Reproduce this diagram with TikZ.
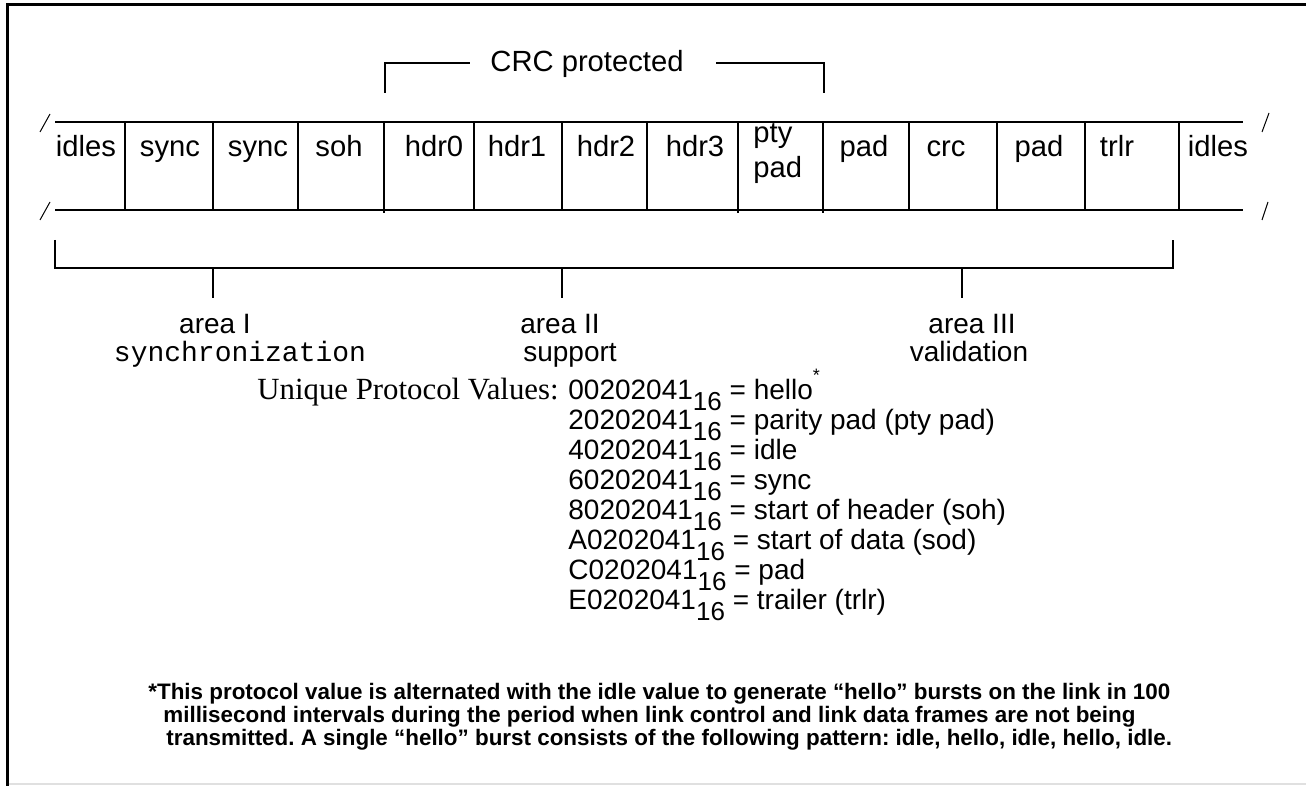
\documentclass[tikz,border=0pt]{standalone}
\usepackage{fontspec}
\setmainfont{Liberation Sans}
\newfontfamily\timesf{Liberation Serif}
\newfontfamily\courf{Liberation Mono}
\newcommand\sixteen{\raisebox{-0.42em}{\fontsize{13}{15}\selectfont 16}}
\frenchspacing
\begin{document}
\begin{tikzpicture}[x=0.5pt,y=-0.5pt,
  lbl/.style={font=\fontsize{14.6}{16}\selectfont, anchor=base, inner sep=0pt},
  area/.style={font=\fontsize{14}{16}\selectfont, anchor=base, inner sep=0pt},
  mono/.style={font=\courf\fontsize{14}{16}\selectfont, anchor=base, inner sep=0pt},
  val/.style={font=\fontsize{14}{16}\selectfont, anchor=base west, inner sep=0pt},
  foot/.style={font=\bfseries\fontsize{11.2}{13}\selectfont, anchor=base west, inner sep=0pt},
  rowline/.style={line width=1pt},
  brk/.style={line width=0.8pt},
  slash/.style={line width=0.5pt},
  frame/.style={line width=1.5pt}]
\useasboundingbox (0,0) rectangle (1306,786);
% frame
\draw[frame] (7,786) -- (7,5) -- (1306,5);
\draw[line width=1pt, black!12] (9,784) -- (1306,784);
% CRC protected bracket
\node[lbl] (crc) at (587,72) {CRC protected};
\coordinate (cl) at (385,93);
\coordinate (cr) at (824,93);
\draw[brk] (cl) |- ([xshift=-10pt]crc.west |- 0,63);
\draw[brk] (cr) |- ([xshift=16pt]crc.east |- 0,63);
% row
\draw[rowline] (55,122) -- (1243,122);
\draw[rowline] (55,210) -- (1243,210);
\draw[slash] (40,132) -- (50,114);
\draw[slash] (40,220) -- (50,202);
\draw[slash] (1262,132) -- (1269,113);
\draw[slash] (1262,220) -- (1268,202);
\foreach \x in {125,213,298,474,562,647,909,997,1085,1179}
  \draw[rowline] (\x,122) -- (\x,210);
\draw[rowline] (384,122) -- (384,213);
\draw[rowline] (738,122) -- (738,213);
\draw[rowline] (823,122) -- (823,213);
\node[lbl] (c1) at (86,157) {idles};
\node[lbl] (c2) at (170,157) {sync};
\node[lbl] (c3) at (258,157) {sync};
\node[lbl] (c4) at (339,157) {soh};
\node[lbl] (c5) at (434,157) {hdr0};
\node[lbl] (c6) at (517,157) {hdr1};
\node[lbl] (c7) at (606,157) {hdr2};
\node[lbl] (c8) at (695,157) {hdr3};
\node[lbl, anchor=base west] (c9a) at (753,143) {pty};
\node[lbl, anchor=base west] (c9b) at (753,178) {pad};
\node[lbl] (c10) at (864,157) {pad};
\node[lbl] (c11) at (946,157) {crc};
\node[lbl] (c12) at (1039,157) {pad};
\node[lbl] (c13) at (1117,157) {trlr};
\node[lbl] (c14) at (1218,157) {idles};
% area bracket
\coordinate (bl) at (55,240);
\coordinate (br) at (1173,240);
\draw[brk] (bl) -- (55,268) -- (1173,268) -- (br);
\node[area] (a1) at (215,333) {area I};
\node[mono] (a1s) at (240,361) {synchronization};
\node[area] (a2) at (560,333) {area II};
\node[area] (a2s) at (570,361) {support};
\node[area] (a3) at (972,333) {area III};
\node[area] (a3s) at (969,361) {validation};
\draw[brk] (213,268) -- (213,298);
\draw[brk] (562,268) -- (562,298);
\draw[brk] (962,268) -- (962,298);
% protocol values
\node[font=\timesf\fontsize{15.4}{17}\selectfont, anchor=base east, inner sep=0pt] (upv) at (559,399) {Unique Protocol Values:};
\node[val] (v1) at (568,399) {00202041\sixteen{} = hello\raisebox{0.62em}{\fontsize{9}{10}\selectfont *}};
\node[val] (v2) at (568,429) {20202041\sixteen{} = parity pad (pty pad)};
\node[val] (v3) at (568,459) {40202041\sixteen{} = idle};
\node[val] (v4) at (568,489) {60202041\sixteen{} = sync};
\node[val] (v5) at (568,519) {80202041\sixteen{} = start of header (soh)};
\node[val] (v6) at (568,549) {A0202041\sixteen{} = start of data (sod)};
\node[val] (v7) at (568,579) {C0202041\sixteen{} = pad};
\node[val] (v8) at (568,609) {E0202041\sixteen{} = trailer (trlr)};
% footnote
\node[foot] (f1) at (148,699) {*This protocol value is alternated with the idle value to generate “hello” bursts on the link in 100};
\node[foot] (f2) at (163,722) {millisecond intervals during the period when link control and link data frames are not being};
\node[foot] (f3) at (166,745) {transmitted. A single “hello” burst consists of the following pattern: idle, hello, idle, hello, idle.};
\end{tikzpicture}
\end{document}
